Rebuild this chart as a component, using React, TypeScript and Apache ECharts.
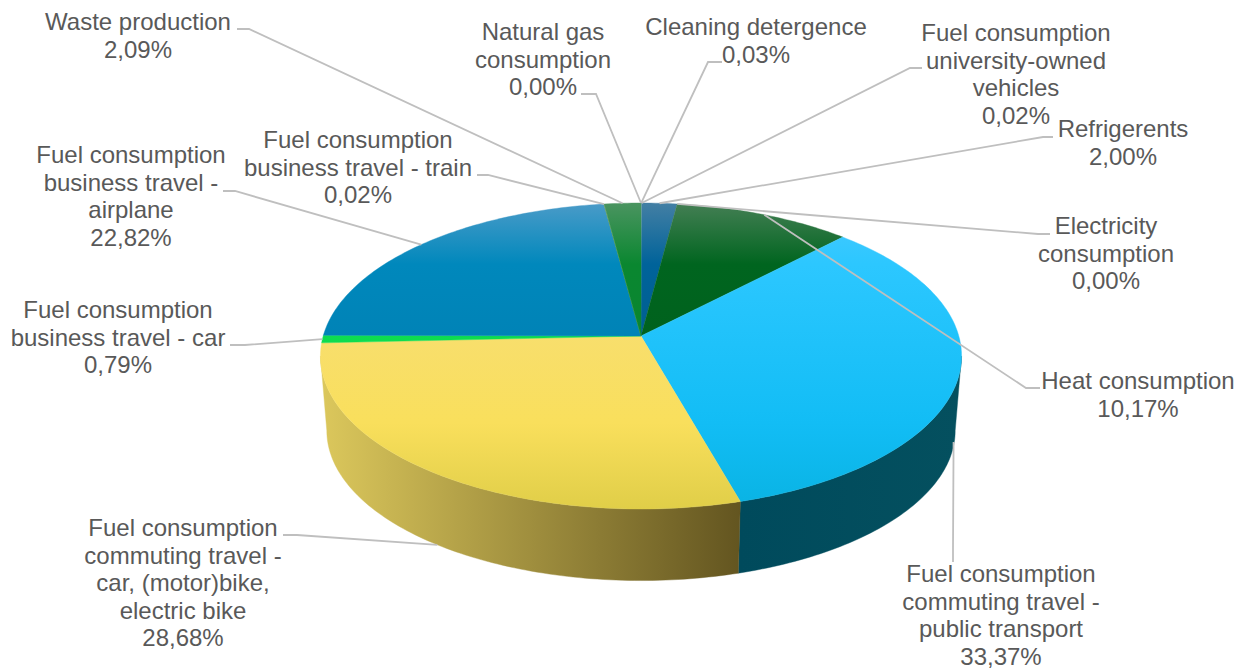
import React, { useEffect, useRef } from "react";
import * as echarts from "echarts";

// Slices clockwise from twelve o'clock.
const sliceValues = [0.0, 0.03, 0.02, 2.0, 0.0, 10.17, 33.37, 28.68, 0.79, 22.82, 0.02, 2.09];
const sliceLabels = [
  ["Natural gas", "consumption"],
  ["Cleaning detergence"],
  ["Fuel consumption", "university-owned", "vehicles"],
  ["Refrigerents"],
  ["Electricity", "consumption"],
  ["Heat consumption"],
  ["Fuel consumption", "commuting travel -", "public transport"],
  ["Fuel consumption", "commuting travel -", "car, (motor)bike,", "electric bike"],
  ["Fuel consumption", "business travel - car"],
  ["Fuel consumption", "business travel -", "airplane"],
  ["Fuel consumption", "business travel - train"],
  ["Waste production"],
];

// Top-face shading per slice: highlight, base, lower mid, shadow.
const faceShades = [
  ["#8fc08f", "#6fae6f", "#5f9f5f", "#5f9f5f"],
  ["#9cc78d", "#7fb56f", "#70a860", "#70a860"],
  ["#7fa8c0", "#5f90ad", "#4f85a0", "#4f85a0"],
  ["#437fa4", "#00639a", "#005a88", "#005a88"],
  ["#447f54", "#00631f", "#005e1c", "#005e1c"],
  ["#447f54", "#00651f", "#005e1b", "#005a1a"],
  ["#4ac9ff", "#2cc7ff", "#12bdf5", "#09b3e3"],
  ["#f6de80", "#f7de7a", "#f9df5c", "#e0ce48"],
  ["#22e866", "#0fe052", "#0cd84c", "#0cd84c"],
  ["#4a9bc8", "#0088bc", "#007db0", "#007aab"],
  ["#80aa66", "#70a050", "#609540", "#609540"],
  ["#4a9460", "#0a8730", "#0a8430", "#0a8430"],
];

// Outer wall shading from left to right, for the slices that show a wall.
const wallShades: Record<number, [string, string]> = {
  6: ["#004a5c", "#04505f"],
  7: ["#dcc85c", "#635520"],
};

// Centre x of each label, top of its text block, then where the leader leaves it.
const labelLayout = [
  { cx: 543, top: 18, from: [581, 94], elbow: [596, 94], wall: 0 },
  { cx: 756, top: 13, from: [722, 62], elbow: [708, 62], wall: 0 },
  { cx: 1016, top: 19, from: [922, 68], elbow: [910, 68], wall: 0 },
  { cx: 1123, top: 115, from: [1053, 137], elbow: [1043, 137], wall: 0 },
  { cx: 1106, top: 212, from: [1050, 234], elbow: [1038, 234], wall: 0 },
  { cx: 1138, top: 367, from: [1040, 388], elbow: [1026, 388], wall: 0 },
  { cx: 1001, top: 560, from: [953, 562], elbow: [953, 548], wall: 0.92 },
  { cx: 183, top: 514, from: [283, 535], elbow: [297, 535], wall: 1 },
  { cx: 118, top: 296, from: [230, 345], elbow: [245, 345], wall: 0 },
  { cx: 131, top: 141, from: [223, 191], elbow: [235, 191], wall: 0 },
  { cx: 358, top: 126, from: [477, 175], elbow: [488, 175], wall: 0 },
  { cx: 138, top: 8, from: [237, 29], elbow: [249, 29], wall: 0 },
];

const LABEL_FONT = '24px "Liberation Sans", Arial, sans-serif';
const LABEL_LINE = 27.5;

// Perspective disc: the hub sits off the ellipse centre, so slices foreshorten unevenly.
const PERSPECTIVE = 0.1307;
const topDisc = { cx: 641, hub: 336, rx: 317.8, ry: 150.4 };
const baseDisc = { cx: 641, hub: 411, rx: 311.5, ry: 147.4 };
const SILHOUETTE = Math.acos(-PERSPECTIVE);

type Disc = typeof topDisc;

function project(disc: Disc, angle: number): number[] {
  const u = Math.sin(angle);
  const v = Math.cos(angle);
  const depth = 1 + PERSPECTIVE * v;
  return [disc.cx + (disc.rx * u) / depth, disc.hub - (disc.ry * v) / depth];
}

const total = sliceValues.reduce((a, b) => a + b, 0);

function sliceSpan(index: number): [number, number] {
  let before = 0;
  for (let i = 0; i < index; i++) before += sliceValues[i];
  const k = (Math.PI * 2) / total;
  return [before * k, (before + sliceValues[index]) * k];
}

function arc(disc: Disc, from: number, to: number): number[][] {
  const steps = Math.max(1, Math.ceil(((to - from) * 180) / Math.PI));
  const pts: number[][] = [];
  for (let i = 0; i <= steps; i++) pts.push(project(disc, from + ((to - from) * i) / steps));
  return pts;
}

function faceFill(index: number) {
  const [a, b, c, d] = faceShades[index];
  const top = topDisc.hub - topDisc.ry / (1 + PERSPECTIVE);
  const bottom = topDisc.hub + topDisc.ry / (1 - PERSPECTIVE);
  return new echarts.graphic.LinearGradient(
    0, top, 0, bottom,
    [
      { offset: 0, color: a },
      { offset: 0.2, color: b },
      { offset: 0.72, color: c },
      { offset: 1, color: d },
    ],
    true
  );
}

function renderWall(params: any) {
  const i = params.dataIndex;
  const shades = wallShades[i];
  if (!shades) return { type: "group", children: [] };
  const [s, e] = sliceSpan(i);
  const from = Math.max(s, SILHOUETTE);
  const to = Math.min(e, Math.PI * 2 - SILHOUETTE);
  if (to <= from) return { type: "group", children: [] };
  const points = [...arc(topDisc, from, to), ...arc(baseDisc, from, to).reverse()];
  const xs = points.map((p) => p[0]);
  const fill = new echarts.graphic.LinearGradient(
    Math.min(...xs), 0, Math.max(...xs), 0,
    [
      { offset: 0, color: shades[0] },
      { offset: 1, color: shades[1] },
    ],
    true
  );
  return { type: "polygon", shape: { points }, style: { fill, stroke: fill, lineWidth: 0.4 } };
}

function renderFace(params: any) {
  const i = params.dataIndex;
  const [s, e] = sliceSpan(i);
  if (e <= s) return { type: "group", children: [] };
  const points = [[topDisc.cx, topDisc.hub], ...arc(topDisc, s, e)];
  const fill = faceFill(i);
  return { type: "polygon", shape: { points }, style: { fill, stroke: fill, lineWidth: 0.4 } };
}

function leaderEnd(i: number): number[] {
  const [s, e] = sliceSpan(i);
  const mid = (s + e) / 2;
  const layout = labelLayout[i];
  const a = project(topDisc, mid);
  const b = project(baseDisc, mid);
  return [a[0] + (b[0] - a[0]) * layout.wall, a[1] + (b[1] - a[1]) * layout.wall];
}

function renderLeader(params: any) {
  const i = params.dataIndex;
  const layout = labelLayout[i];
  return {
    type: "polyline",
    shape: { points: [layout.from, layout.elbow, leaderEnd(i)] },
    style: { fill: "none", stroke: "#bfbfbf", lineWidth: 1.8 },
  };
}

function renderLabel(params: any) {
  const i = params.dataIndex;
  const layout = labelLayout[i];
  const percent = sliceValues[i].toFixed(2).replace(".", ",") + "%";
  return {
    type: "text",
    style: {
      text: [...sliceLabels[i], percent].join("\n"),
      x: layout.cx,
      y: layout.top,
      align: "center",
      verticalAlign: "top",
      font: LABEL_FONT,
      lineHeight: LABEL_LINE,
      fill: "#595959",
    },
  };
}

function layer(renderItem: (p: any) => any, z: number) {
  return {
    type: "custom",
    coordinateSystem: "none",
    renderItem,
    data: sliceValues,
    z,
    silent: true,
    clip: false,
  };
}

export default function App() {
  const ref = useRef<HTMLDivElement>(null);

  useEffect(() => {
    const chart = echarts.init(ref.current!, undefined, { renderer: "svg" });
    chart.setOption({
      animation: false,
      backgroundColor: "#ffffff",
      series: [
        layer(renderWall, 1),
        layer(renderFace, 2),
        layer(renderLeader, 3),
        layer(renderLabel, 4),
      ],
    });
    return () => chart.dispose();
  }, []);

  return <div ref={ref} style={{ position: "absolute", left: 0, top: 0, width: 1244, height: 669 }} />;
}
